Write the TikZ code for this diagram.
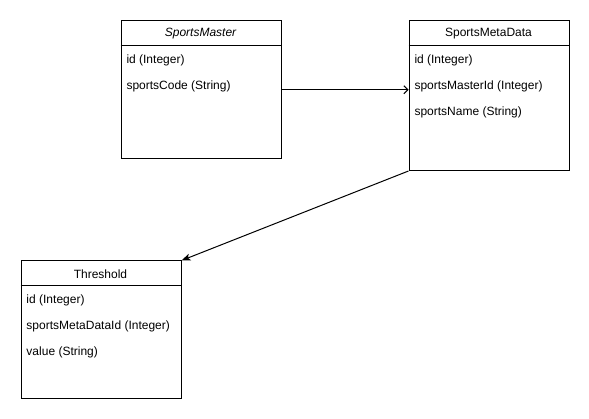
\documentclass[tikz,border=0pt]{standalone}
\usepackage{fontspec}
\setmainfont{Liberation Sans}
\usetikzlibrary{arrows.meta,calc}
\begin{document}
\begin{tikzpicture}[x=1pt,y=-1pt,line width=1pt,
  font=\fontsize{12}{14}\selectfont,
  entity/.style={draw,rectangle,anchor=north west,inner sep=0pt,minimum width=160pt},
  attr/.style={anchor=west,inner sep=0pt},
  head/.style={anchor=center,inner sep=0pt}]
\useasboundingbox (0,0) rectangle (589,419);
% SportsMaster
\node[entity,minimum height=137.5pt] (sm) at (120.5,20.5) {};
\draw ($(sm.north west)+(0,25.5)$) coordinate (smh1) -- (smh1 -| sm.east);
\node[head] (smt) at (200.5,34) {\itshape SportsMaster};
\node[attr] (sma1) at (126,60.5) {id (Integer)};
\node[attr] (sma2) at (126,86.5) {sportsCode (String)};
% SportsMetaData
\node[entity,minimum height=149.5pt] (smd) at (408.5,20.5) {};
\draw ($(smd.north west)+(0,25.5)$) coordinate (smdh1) -- (smdh1 -| smd.east);
\node[head] (smdt) at (488.5,34) {SportsMetaData};
\node[attr] (smda1) at (414,60.5) {id (Integer)};
\node[attr] (smda2) at (414,86.5) {sportsMasterId (Integer)};
\node[attr] (smda3) at (414,112.5) {sportsName (String)};
% Threshold
\node[entity,minimum height=138pt] (th) at (20.5,260.5) {};
\draw ($(th.north west)+(0,25.5)$) coordinate (thh1) -- (thh1 -| th.east);
\node[head] (tht) at (100.5,274) {Threshold};
\node[attr] (tha1) at (26,300.5) {id (Integer)};
\node[attr] (tha2) at (26,326.5) {sportsMetaDataId (Integer)};
\node[attr] (tha3) at (26,352.5) {value (String)};
% connectors
\draw[-{Straight Barb[length=4pt,width=8pt]}] (sm.east) -- (sm.east -| smd.west);
\draw[-{Stealth[length=9pt,width=7pt,inset=2pt]}] (smd.south west) -- (th.north east);
\end{tikzpicture}
\end{document}
